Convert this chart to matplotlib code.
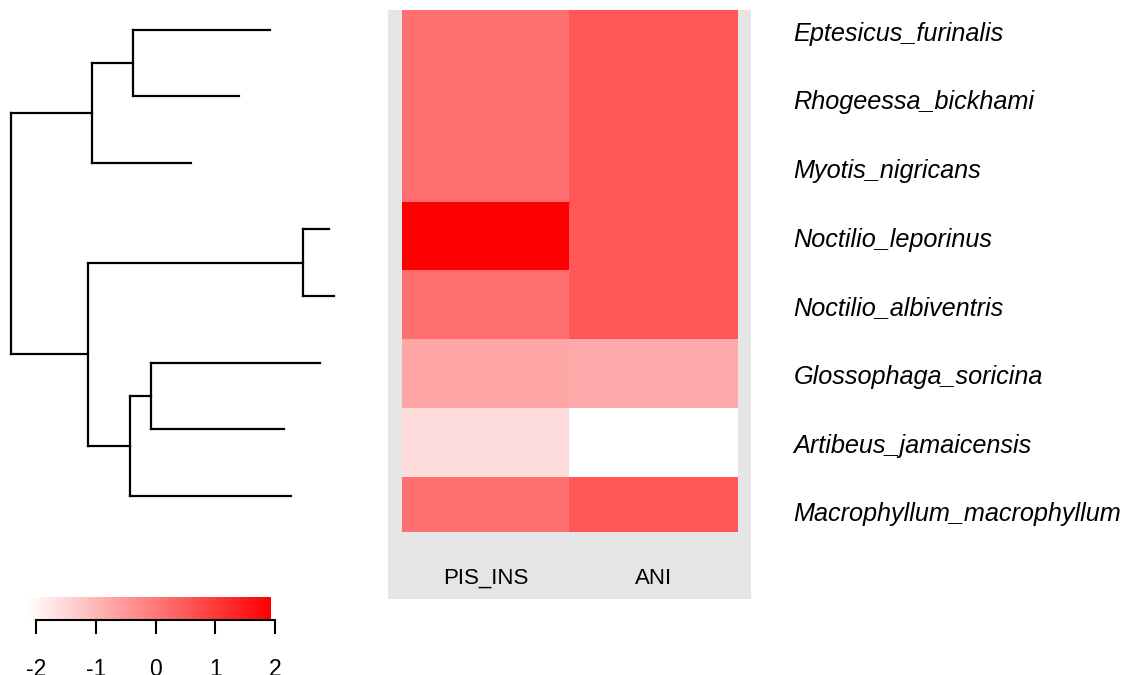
import numpy as np
import matplotlib
matplotlib.use("Agg")
import matplotlib.pyplot as plt
from matplotlib.colors import LinearSegmentedColormap

plt.rcParams['font.family'] = ['Liberation Sans', 'DejaVu Sans']

# tips, top to bottom
species = ["Eptesicus_furinalis", "Rhogeessa_bickhami", "Myotis_nigricans",
           "Noctilio_leporinus", "Noctilio_albiventris", "Glossophaga_soricina",
           "Artibeus_jamaicensis", "Macrophyllum_macrophyllum"]
traits = ["PIS_INS", "ANI"]

# standardized trait values (rows follow species)
pis_ins = [0.26, 0.26, 0.26, 2.0, 0.26, -0.60, -1.45, 0.26]
ani = [0.63, 0.63, 0.63, 0.63, 0.63, -0.67, -2.0, 0.63]

# tree edges: (parent, child, branch length); integer children are tips
edges = [
    ("root", "A", 0.81), ("A", "B", 0.41), ("B", 0, 1.37), ("B", 1, 1.06),
    ("A", 2, 0.99),
    ("root", "C", 0.77), ("C", "N", 2.15), ("N", 3, 0.26), ("N", 4, 0.31),
    ("C", "D", 0.42), ("D", "E", 0.21), ("E", 5, 1.69), ("E", 6, 1.33),
    ("D", 7, 1.61),
]

cbar_ticks = [-2, -1, 0, 1, 2]

W, H = 1125, 675


def px_rect(x0, y0, x1, y1):
    # pixel box (top-left origin) -> figure fraction rect
    return [x0 / W, (H - y1) / H, (x1 - x0) / W, (y1 - y0) / H]


fig = plt.figure(figsize=(W / 100, H / 100), dpi=100)
cmap = LinearSegmentedColormap.from_list("wr", ["white", "red"])

# ---- tree ----
children = {}
for p, c, l in edges:
    children.setdefault(p, []).append((c, l))

xpos, ypos = {"root": 0.0}, {}
stack = ["root"]
while stack:
    n = stack.pop()
    for c, l in children.get(n, []):
        xpos[c] = xpos[n] + l
        stack.append(c)


def walk_y(node):
    if node not in children:
        ypos[node] = float(node)
        return ypos[node]
    ys = [walk_y(c) for c, _ in children[node]]
    ypos[node] = (min(ys) + max(ys)) / 2
    return ypos[node]


walk_y("root")

axt = fig.add_axes(px_rect(11, 29.5, 334, 496))
lw = 1.6
for p, c, l in edges:
    axt.plot([xpos[p], xpos[c]], [ypos[c], ypos[c]], color="black", lw=lw,
             solid_capstyle="projecting", clip_on=False)
for n, ch in children.items():
    ys = [ypos[c] for c, _ in ch]
    axt.plot([xpos[n], xpos[n]], [min(ys), max(ys)], color="black", lw=lw,
             solid_capstyle="projecting", clip_on=False)
axt.set_xlim(0, max(xpos[i] for i in range(len(species))))
axt.set_ylim(len(species) - 1, 0)
axt.axis("off")

# ---- heatmap ----
axg = fig.add_axes(px_rect(388, 10, 751, 599))
axg.set_facecolor("#E5E5E5")
axg.set_xticks([])
axg.set_yticks([])
for s in axg.spines.values():
    s.set_visible(False)

axh = fig.add_axes(px_rect(402, 10, 738, 532))
vals = np.array([pis_ins, ani]).T
axh.pcolormesh(np.arange(len(traits) + 1) - 0.5, np.arange(len(species) + 1) - 0.5,
               vals, cmap=cmap, vmin=-2, vmax=2, edgecolors="face", antialiased=False)
row_h = 68.7
axh.set_ylim((532 - 31) / row_h, (10 - 31) / row_h)
axh.set_xlim(-0.5, len(traits) - 0.5)
for s in axh.spines.values():
    s.set_visible(False)
axh.set_xticks(range(len(traits)))
axh.set_xticklabels(traits, fontsize=16)
axh.tick_params(axis="x", length=0, pad=26)
axh.yaxis.tick_right()
axh.set_yticks(range(len(species)))
axh.set_yticklabels(species, fontsize=18.2, fontstyle="italic", ha="left")
axh.tick_params(axis="y", length=0, pad=40)

# ---- colour bar ----
axc = fig.add_axes(px_rect(27, 597, 271, 619))
axc.imshow(np.linspace(-2, 2, 256)[None, :], cmap=cmap, vmin=-2, vmax=2, aspect="auto")
axc.axis("off")

axs = fig.add_axes(px_rect(36, 619, 275, 620))
axs.set_xlim(-2, 2)
axs.set_yticks([])
for k in ["top", "left", "right"]:
    axs.spines[k].set_visible(False)
axs.spines["bottom"].set_linewidth(1.5)
axs.patch.set_visible(False)
axs.set_xticks(cbar_ticks)
axs.set_xticklabels([str(t) for t in cbar_ticks], fontsize=16.5)
axs.tick_params(axis="x", length=10, width=1.5, pad=17)

fig.savefig("out.png", dpi=100)
